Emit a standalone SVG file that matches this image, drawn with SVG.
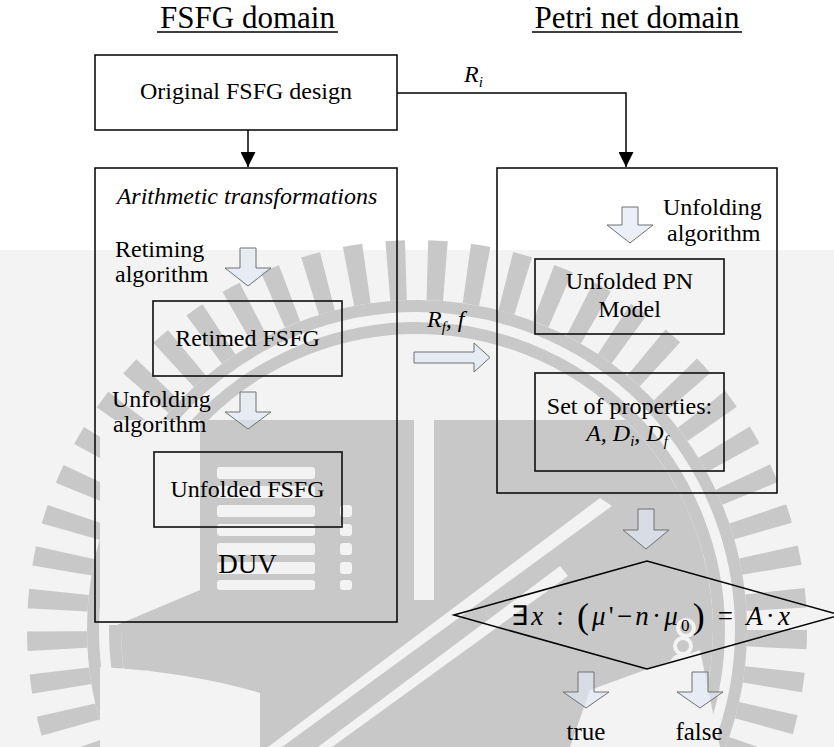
<svg xmlns="http://www.w3.org/2000/svg" width="834" height="747" viewBox="0 0 834 747" font-family="'Liberation Serif', 'Times New Roman', serif">
<style>
  text { fill: #000; }
  .t24 { font-size: 24px; }
  .t32 { font-size: 31px; }
  .it { font-style: italic; }
  .mid { text-anchor: middle; }
  .box { fill: none; stroke: #000; stroke-width: 1.5; }
  .ibox { fill: none; stroke: #1a1a1a; stroke-width: 1.7; }
  .conn { fill: none; stroke: #000; stroke-width: 1.5; }
  .barrow { fill: #dfe7f4; fill-opacity: 0.65; stroke: #707070; stroke-width: 1; }
  .wm { fill: #c8c8c8; }
  .wml { fill: #f3f3f3; }
  .wmring { fill: none; stroke: #c8c8c8; }
</style>
<defs>
  <marker id="ah" viewBox="0 0 15 15" refX="15" refY="7.5" markerWidth="15" markerHeight="15" markerUnits="userSpaceOnUse" orient="auto">
    <path d="M0,0 L15,7.5 L0,15 Z" fill="#000"/>
  </marker>
</defs>

<rect x="0" y="0" width="834" height="747" fill="#fff"/>

<g id="watermark">
  <rect class="wml" x="0" y="250" width="834" height="497"/>
  <circle class="wmring" cx="417" cy="630" r="360" stroke-width="60" stroke-dasharray="18 21.68"/>
  <circle class="wmring" cx="417" cy="630" r="324" stroke-width="12"/>
  <circle class="wmring" cx="417" cy="630" r="302" stroke-width="12"/>
  <path class="wm" d="M208.4,420 H625.6 A296,296 0 0 1 688.9,747 H145.1 A296,296 0 0 1 208.4,420 Z"/>
  <path class="wml" d="M100,420 H200 V590 L117,625 H100 Z"/>
  <rect class="wml" x="414" y="420" width="20" height="180"/>
  <path class="wml" d="M100,667 Q190,672 260,693 V747 H100 Z"/>
  <g class="wml">
    <rect x="217" y="467" width="98" height="12" rx="3"/>
    <rect x="217" y="486" width="98" height="12" rx="3"/>
    <rect x="217" y="505" width="98" height="12" rx="3"/>
    <rect x="217" y="524" width="98" height="12" rx="3"/>
    <rect x="217" y="543" width="98" height="12" rx="3"/>
    <rect x="217" y="562" width="98" height="12" rx="3"/>
    <rect x="217" y="580" width="98" height="10" rx="3"/>
    <rect x="340" y="505" width="12" height="12" rx="3"/>
    <rect x="340" y="524" width="12" height="12" rx="3"/>
    <rect x="340" y="543" width="12" height="12" rx="3"/>
    <rect x="340" y="562" width="12" height="12" rx="3"/>
    <rect x="340" y="580" width="12" height="10" rx="3"/>
  </g>
  <path class="wml" d="M268,747 L600,498 L612,506 L282,747 Z"/>
  <path class="wml" d="M318,747 L560,566 L568,576 L332,747 Z"/>
  <path class="wml" d="M590,690 L700,650 L720,747 L570,747 Z"/>
  <g fill="none" stroke="#f3f3f3" stroke-width="4">
    <circle cx="686" cy="628" r="8"/>
    <circle cx="683" cy="646" r="8"/>
    <circle cx="680" cy="664" r="8"/>
    <circle cx="677" cy="682" r="8"/>
    <circle cx="674" cy="700" r="8"/>
  </g>
</g>

<g id="titles">
  <text class="t32 mid" x="247.5" y="28">FSFG domain</text>
  <line x1="157" y1="32" x2="338" y2="32" stroke="#000" stroke-width="1.5"/>
  <text class="t32 mid" x="637" y="28">Petri net domain</text>
  <line x1="532" y1="32" x2="742" y2="32" stroke="#000" stroke-width="1.5"/>
</g>

<g id="original-fsfg">
  <rect class="box" x="95" y="55" width="302" height="75"/>
  <text class="t24 mid" x="246" y="99">Original FSFG design</text>
</g>

<g id="fsfg-domain">
  <rect class="box" x="95" y="168" width="302" height="454"/>
  <text class="t24 it mid" x="247" y="204">Arithmetic transformations</text>
  <text class="mid" x="247.5" y="573" font-size="27">DUV</text>
</g>

<g id="retiming-step">
  <text class="t24" x="115" y="257">Retiming</text>
  <text class="t24" x="115" y="282">algorithm</text>
  <path class="barrow" d="M240,248 H256 V268 H271 L248,286 L225,268 H240 Z"/>
</g>

<g id="retimed-fsfg">
  <rect class="ibox" x="153" y="301" width="189" height="75"/>
  <text class="t24 mid" x="247.5" y="346">Retimed FSFG</text>
</g>

<g id="unfolding-step-fsfg">
  <text class="t24" x="112" y="407">Unfolding</text>
  <text class="t24" x="113" y="432">algorithm</text>
  <path class="barrow" d="M240,392 H256 V412 H271 L248,429 L225,412 H240 Z"/>
</g>

<g id="unfolded-fsfg">
  <rect class="ibox" x="154" y="452" width="188" height="75"/>
  <text class="t24 mid" x="247.5" y="497">Unfolded FSFG</text>
</g>

<g id="petri-domain">
  <rect class="box" x="497" y="168" width="280" height="325"/>
</g>

<g id="unfolding-step-pn">
  <path class="barrow" d="M622,207 H638 V225 H653 L630,243 L607,225 H622 Z"/>
  <text class="t24" x="663" y="215">Unfolding</text>
  <text class="t24" x="667" y="241">algorithm</text>
</g>

<g id="unfolded-pn-model">
  <rect class="ibox" x="535" y="259" width="189" height="75"/>
  <text class="t24 mid" x="629.5" y="289">Unfolded PN</text>
  <text class="t24 mid" x="629.5" y="317">Model</text>
</g>

<g id="set-of-properties">
  <rect class="ibox" x="535" y="373" width="189" height="98"/>
  <text class="t24 mid" x="629.5" y="414">Set of properties:</text>
  <text class="t24 it mid" x="627" y="441">A, D<tspan font-size="15" dy="5">i</tspan><tspan dy="-5">, D</tspan><tspan font-size="15" dy="5">f</tspan></text>
</g>

<g id="mapping-arrow">
  <text class="t24 it" x="427" y="327">R<tspan font-size="15" dy="5">f</tspan><tspan dy="-5">, f</tspan></text>
  <path class="barrow" d="M414,352 H474 V343 L490,357.5 L474,372 V363 H414 Z"/>
</g>

<g id="check-arrow">
  <path class="barrow" d="M638,509 H654 V530 H669 L646,549 L623,530 H638 Z"/>
</g>

<g id="decision">
  <polygon points="454,615 647,561 840,615 647,669" fill="none" stroke="#000" stroke-width="1.5"/>
  <text x="511" y="625" font-size="27" textLength="279" lengthAdjust="spacing">∃<tspan class="it">x</tspan> : <tspan font-size="36" dy="3">(</tspan><tspan class="it" dy="-3">μ</tspan>'−<tspan class="it">n</tspan>·<tspan class="it">μ</tspan><tspan font-size="17" dy="6">0</tspan><tspan font-size="36" dy="-3">)</tspan><tspan dy="-3"> = </tspan><tspan class="it">A</tspan>·<tspan class="it">x</tspan></text>
</g>

<g id="result-true">
  <path class="barrow" d="M578,672 H594 V692 H609 L586,708 L563,692 H578 Z"/>
  <text class="mid" x="586" y="740" font-size="25">true</text>
</g>

<g id="result-false">
  <path class="barrow" d="M692,672 H708 V692 H723 L700,708 L677,692 H692 Z"/>
  <text class="mid" x="699" y="740" font-size="25">false</text>
</g>

<g id="connectors">
  <path class="conn" d="M248,130 V167" marker-end="url(#ah)"/>
  <path class="conn" d="M397,93 H626 V167" marker-end="url(#ah)"/>
  <text class="t24 it" x="464" y="82">R<tspan font-size="15" dy="5">i</tspan></text>
</g>
</svg>
